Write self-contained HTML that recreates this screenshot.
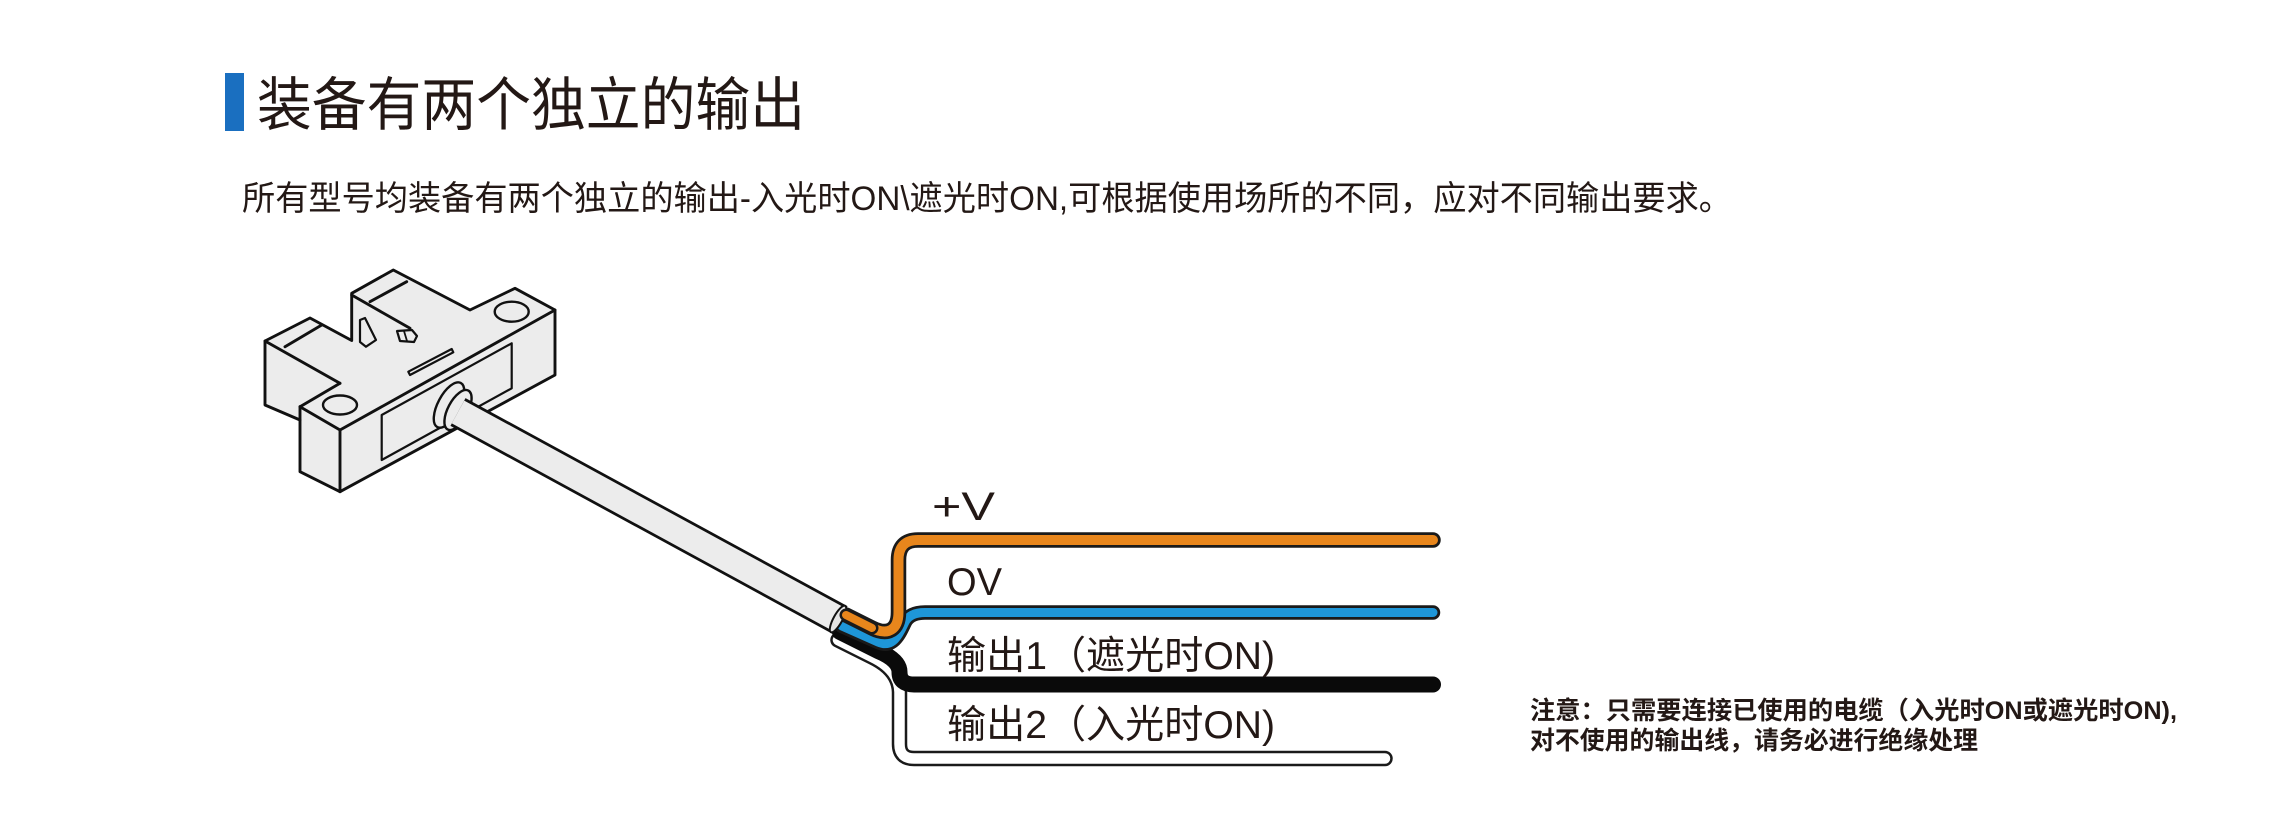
<!DOCTYPE html>
<html>
<head>
<meta charset="utf-8">
<style>
  html, body { margin:0; padding:0; background:#ffffff; }
  body { width:2279px; height:833px; overflow:hidden; }
  svg { display:block; }
  text { font-family: "Liberation Sans", "Noto Sans CJK SC", sans-serif; fill:#231815; }
</style>
</head>
<body>
<svg width="2279" height="833" viewBox="0 0 2279 833" xmlns="http://www.w3.org/2000/svg">
  <rect x="0" y="0" width="2279" height="833" fill="#ffffff"/>

  <!-- Title -->
  <rect x="225" y="73" width="19" height="58" fill="#1a6fc0"/>
  <text x="257" y="125" font-size="58" textLength="548" lengthAdjust="spacingAndGlyphs">装备有两个独立的输出</text>

  <!-- Subtitle -->
  <text x="242" y="210" font-size="34" textLength="1490" lengthAdjust="spacingAndGlyphs">所有型号均装备有两个独立的输出-入光时ON\遮光时ON,可根据使用场所的不同，应对不同输出要求。</text>

  <!-- Sensor body -->
  <g stroke="#111111" stroke-width="2.9" stroke-linejoin="round" stroke-linecap="round" fill="none">
    <polygon fill="#ececec" points="265,341 310,318 351.7,340.5 351.7,293.3 393.3,270 470,310 515,288.3 555,310 555,375 340,491.7 300,471.7 300,420 265,405"/>
    <!-- left arm & tab lines -->
    <line x1="265" y1="341" x2="340" y2="383.3"/>
    <line x1="285" y1="346.7" x2="321.7" y2="325"/>
    <line x1="340" y1="383.3" x2="300" y2="406.7"/>
    <line x1="300" y1="406.7" x2="340" y2="430"/>
    <line x1="300" y1="406.7" x2="300" y2="420"/>
    <line x1="340" y1="430" x2="555" y2="310"/>
    <line x1="340" y1="430" x2="340" y2="491.7"/>
    <!-- right arm -->
    <line x1="370" y1="301.7" x2="406.7" y2="281.7"/>
    <line x1="351.7" y1="295" x2="410" y2="328.3"/>
    <polygon points="360,320 365,318 376,340 366,346.7 360,342" stroke-width="2.2"/>
    <polygon points="397,331 412,330 417,336 414,342 400,341" stroke-width="2.2"/>
    <line x1="404" y1="331" x2="407" y2="341" stroke-width="1.8"/>
    <!-- slit -->
    <polygon points="408.3,371.7 451.7,349 453.3,352.3 410,375" stroke-width="2.2"/>
    <!-- recess rectangle on front face -->
    <polygon points="381.7,415 511.7,343.3 511.7,388.3 381.7,460" stroke-width="2.2"/>
    <!-- holes -->
    <ellipse cx="340" cy="405" rx="17" ry="9.5" stroke-width="2.4"/>
    <ellipse cx="511.7" cy="311.7" rx="17" ry="10" stroke-width="2.4"/>
    <!-- cable boss -->
    <ellipse cx="449" cy="405" rx="11" ry="25" transform="rotate(28 449 405)" fill="#ececec" stroke-width="2.4"/>
    <ellipse cx="458" cy="410" rx="10" ry="22" transform="rotate(28 458 410)" fill="#ececec" stroke-width="2.4"/>
  </g>

  <!-- Wires (drawn under cable end) -->
  <g fill="none" stroke-linecap="round" stroke-linejoin="round">
    <!-- white wire -->
    <path d="M838,640 L872,657 Q899,670 899.5,692 L899.5,744 Q899.5,758.5 914,758.5 L1385,758.5" stroke="#1a1a1a" stroke-width="15.5"/>
    <path d="M838,640 L872,657 Q899,670 899.5,692 L899.5,744 Q899.5,758.5 914,758.5 L1385,758.5" stroke="#ffffff" stroke-width="10.5"/>
    <!-- black wire -->
    <path d="M840,632 L878,651 Q899.5,660 899.5,672 Q899.5,684.5 914,684.5 L1433,684.5" stroke="#0a0a0a" stroke-width="16"/>
    <!-- blue wire -->
    <path d="M842,626 L878,642 C894,649 900,632 905,622 Q910,612.5 925,612.5 L1433,612.5" stroke="#1a1a1a" stroke-width="14.5"/>
    <path d="M842,626 L878,642 C894,649 900,632 905,622 Q910,612.5 925,612.5 L1433,612.5" stroke="#1e96d8" stroke-width="9"/>
    <!-- orange wire -->
    <path d="M846,615 L872,628 C888,636 898.5,630 898.5,612 L898.5,560 Q898.5,540 918,540 L1433,540" stroke="#1a1a1a" stroke-width="15.5"/>
    <path d="M846,615 L872,628 C888,636 898.5,630 898.5,612 L898.5,560 Q898.5,540 918,540 L1433,540" stroke="#e8861c" stroke-width="10"/>
  </g>

  <!-- Cable -->
  <g fill="none">
    <line x1="458" y1="412" x2="840" y2="620" stroke="#111111" stroke-width="31.5" stroke-linecap="butt"/>
    <line x1="458" y1="412" x2="838.5" y2="619.2" stroke="#ececec" stroke-width="26" stroke-linecap="butt"/>
    <ellipse cx="838" cy="619" rx="4.5" ry="15" transform="rotate(28.6 838 619)" fill="#e4e4e4" stroke="#111111" stroke-width="2"/>
  </g>
  <!-- re-draw orange start on cable end face -->
  <path d="M846,615 L872,628" fill="none" stroke="#1a1a1a" stroke-width="13" stroke-linecap="round"/>
  <path d="M846,615 L872,628" fill="none" stroke="#e8861c" stroke-width="8" stroke-linecap="round"/>

  <!-- Wire labels -->
  <text x="932" y="520" font-size="40" textLength="63" lengthAdjust="spacingAndGlyphs">+V</text>
  <text x="947" y="595" font-size="39" textLength="55" lengthAdjust="spacingAndGlyphs">OV</text>
  <text x="947" y="669" font-size="39" textLength="328" lengthAdjust="spacingAndGlyphs">输出1（遮光时ON)</text>
  <text x="947" y="738" font-size="39" textLength="328" lengthAdjust="spacingAndGlyphs">输出2（入光时ON)</text>

  <!-- Note -->
  <text x="1530" y="719" font-size="25" font-weight="bold" textLength="647" lengthAdjust="spacingAndGlyphs">注意：只需要连接已使用的电缆（入光时ON或遮光时ON),</text>
  <text x="1530" y="749" font-size="25" font-weight="bold" textLength="448" lengthAdjust="spacingAndGlyphs">对不使用的输出线，请务必进行绝缘处理</text>
</svg>
</body>
</html>
